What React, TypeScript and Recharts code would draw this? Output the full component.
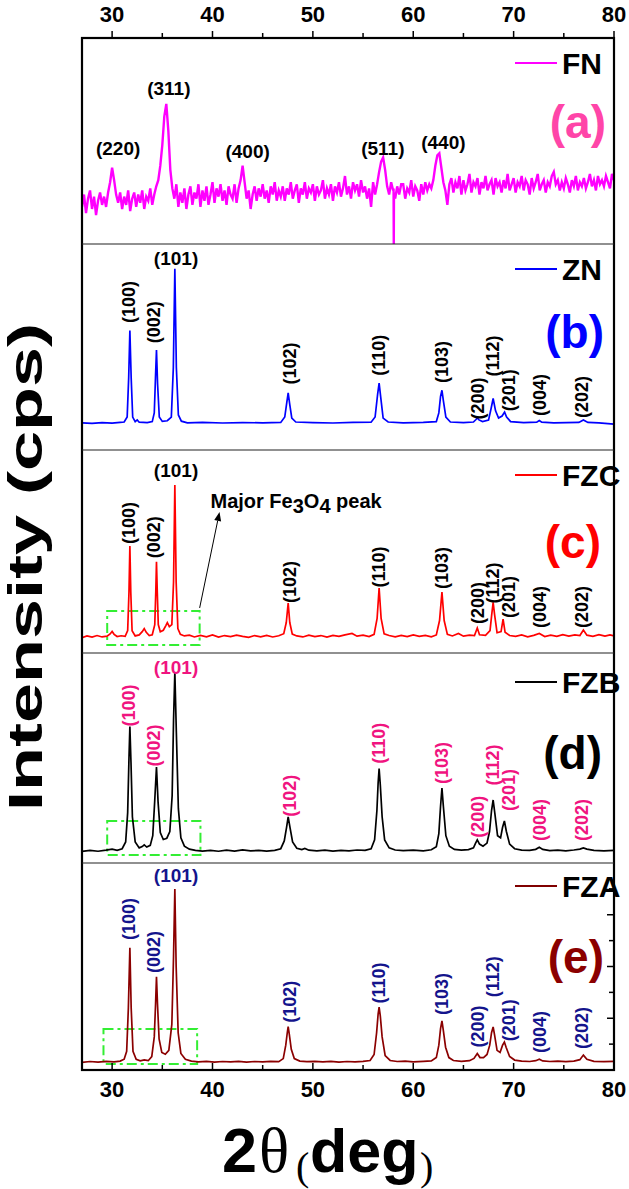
import { LineChart, Line, XAxis, YAxis, ReferenceDot, ReferenceArea, ReferenceLine, Legend } from 'recharts'

const SANS = "'Liberation Sans', Arial, Helvetica, sans-serif"
const SERIF = "'Liberation Serif', 'Times New Roman', serif"

const X_TICKS = [30, 35, 40, 45, 50, 55, 60, 65, 70, 75, 80]
const E_RIGHT_TICKS = [12.5, 25, 37.5, 50, 62.5, 75, 87.5]

// FN: noisy pattern sampled every 0.2 deg from 27 to 80
const FN_START = 27
const FN_STEP = 0.2
const fnY = [
  18, 24, 15, 22, 26, 17, 23, 14, 21, 25,
  19, 23, 18, 25, 30, 37, 31, 24, 20, 25,
  17, 23, 19, 26, 16, 22, 25, 18, 24, 20,
  26, 17, 23, 21, 27, 19, 24, 28, 31, 38,
  48, 62, 68, 55, 36, 27, 22, 29, 18, 25,
  20, 27, 17, 24, 28, 19, 25, 22, 29, 18,
  26, 21, 28, 19, 24, 30, 20, 27, 23, 29,
  21, 26, 19, 28, 24, 22, 29, 20, 27, 31,
  38, 30, 22, 26, 17, 24, 28, 21, 27, 23,
  29, 22, 26, 20, 28, 24, 30, 21, 26, 23,
  28, 21, 27, 24, 30, 22, 26, 29, 20, 27,
  24, 30, 22, 27, 25, 29, 21, 28, 24, 26,
  31, 22, 27, 24, 29, 21, 28, 25, 30, 23,
  27, 33, 24, 28, 22, 30, 26, 29, 23, 31,
  25, 28, 22, 27, 18, 30, 24, 29, 35, 40,
  42, 36, 28, 24, 30, 26, 22, 28, 24, 29,
  29, 22, 27, 25, 31, 23, 28, 26, 21, 29,
  24, 30, 26, 29, 27, 31, 38, 43, 44, 37,
  30, 26, 19, 29, 32, 25, 30, 27, 33, 24,
  31, 26, 29, 34, 25, 30, 28, 32, 24, 30,
  27, 33, 26, 29, 31, 24, 32, 28, 30, 25,
  31, 27, 34, 26, 29, 32, 25, 30, 28, 33,
  26, 31, 29, 24, 32, 27, 30, 34, 26, 29,
  31, 25, 30, 28, 33, 35, 29, 31, 26, 30,
  27, 32, 29, 25, 31, 28, 33, 26, 30, 28,
  32, 27, 30, 34, 28, 31, 26, 33, 29, 31,
  28, 33, 30, 27, 34, 31,
]
const fnSpike = [[58.04, 27], [58.06, 0], [58.08, 25]]

const znPts = [
  [27, 13.2], [28, 12.9], [29, 13.3], [30, 13.0], [30.8, 13.4], [31.2, 13.6], [31.5, 16], [31.65, 35], [31.77, 58], [31.9, 35],
  [32.05, 16], [32.3, 13.8], [32.5, 14.6], [32.7, 13.5], [33.5, 13.3], [34.0, 13.8], [34.2, 18], [34.32, 35], [34.42, 48.5], [34.53, 32],
  [34.7, 16], [35.0, 13.9], [35.5, 14.2], [35.9, 16], [36.1, 40], [36.25, 88], [36.4, 40], [36.6, 17], [36.9, 14], [37.5, 13.2],
  [39, 13.4], [41, 13.1], [43, 13.3], [45, 13.2], [46.8, 13.4], [47.2, 16], [47.4, 23], [47.54, 27.7], [47.7, 22], [47.9, 15.5],
  [48.3, 13.6], [50, 13.3], [52, 13.1], [54, 13.4], [55.8, 13.5], [56.2, 16], [56.45, 27], [56.6, 32.5], [56.75, 26], [57.0, 15.5],
  [57.5, 13.6], [59, 13.2], [61, 13.4], [62.3, 13.8], [62.55, 18], [62.72, 26], [62.86, 29], [63.0, 24], [63.25, 16], [63.7, 13.6],
  [65, 13.3], [66.0, 13.6], [66.25, 14.8], [66.38, 15.6], [66.55, 14.6], [66.9, 13.8], [67.5, 14.5], [67.75, 20], [67.96, 25], [68.2, 19],
  [68.5, 15.5], [68.85, 16.5], [69.1, 18.4], [69.3, 16], [69.7, 13.8], [71, 13.3], [72.3, 13.5], [72.56, 14.3], [72.8, 13.5], [74, 13.2],
  [76.5, 13.4], [76.95, 14.6], [77.4, 13.4], [78.5, 13.2], [80, 12.6],
]

const fzcPts = [
  [27, 7.6], [27.5, 8.4], [28, 7.8], [28.5, 8.6], [29, 7.9], [29.5, 8.3], [29.8, 9.4], [30.0, 10.6], [30.2, 9.2], [30.5, 8.1],
  [30.9, 8.5], [31.3, 8.2], [31.55, 11], [31.68, 30], [31.77, 52.7], [31.86, 30], [31.99, 11], [32.3, 8.4], [32.7, 8.9], [33.0, 10.5],
  [33.2, 12.0], [33.4, 10.2], [33.7, 8.6], [34.0, 9.0], [34.25, 14], [34.35, 30], [34.42, 45], [34.5, 30], [34.6, 14], [34.8, 10.5],
  [35.1, 11.2], [35.35, 13.5], [35.5, 15], [35.7, 13], [35.95, 14], [36.12, 35], [36.25, 82.8], [36.38, 35], [36.55, 12], [36.8, 9.2],
  [37.2, 8.4], [37.7, 8.8], [38.2, 7.9], [38.8, 8.7], [39.4, 8.0], [40, 8.9], [40.6, 7.8], [41.2, 8.6], [41.8, 8.1], [42.4, 8.8],
  [43.0, 8.2], [43.6, 7.7], [44.2, 8.6], [44.8, 8.0], [45.4, 8.7], [46, 7.9], [46.6, 8.5], [47.1, 9.5], [47.35, 15], [47.54, 24.6],
  [47.7, 15], [47.95, 9.3], [48.4, 8.4], [49, 7.9], [49.6, 8.8], [50.2, 8.1], [50.8, 8.6], [51.4, 7.8], [52, 8.7], [52.6, 8.2],
  [53.2, 8.9], [53.9, 9.6], [54.4, 8.3], [55, 8.8], [55.6, 8.1], [56.1, 9.2], [56.4, 17], [56.6, 32], [56.8, 17], [57.1, 9.4],
  [57.6, 8.6], [58.2, 8.0], [58.8, 8.7], [59.4, 8.1], [60, 8.9], [60.6, 8.2], [61.2, 8.7], [61.8, 8.0], [62.3, 8.9], [62.62, 16],
  [62.86, 30], [63.08, 16], [63.4, 9.2], [63.9, 8.4], [64.5, 9.6], [65, 8.3], [65.6, 8.8], [66.1, 8.6], [66.38, 12.3], [66.6, 9.0],
  [67.2, 8.7], [67.65, 11], [67.82, 19], [67.96, 25], [68.1, 19], [68.35, 10], [68.75, 10.5], [68.95, 16.7], [69.15, 10.2], [69.6, 8.6],
  [70.2, 8.2], [70.8, 8.9], [71.4, 8.0], [72, 8.7], [72.56, 9.6], [73.1, 8.1], [73.7, 8.8], [74.3, 8.2], [74.9, 9.0], [75.5, 8.3],
  [76.1, 8.9], [76.6, 8.6], [76.95, 11.3], [77.3, 8.8], [77.9, 8.2], [78.5, 9.0], [79.1, 8.3], [79.6, 8.9], [80, 8.4],
]

const fzbPts = [
  [27, 5.5], [27.8, 6.0], [28.6, 5.6], [29.4, 6.1], [30.0, 6.6], [30.5, 6.0], [31.0, 6.8], [31.35, 10], [31.55, 24], [31.68, 50],
  [31.77, 65], [31.88, 48], [32.02, 22], [32.3, 10], [32.7, 7.2], [33.0, 7.8], [33.2, 8.6], [33.45, 7.6], [33.8, 8.4], [34.05, 13],
  [34.25, 30], [34.42, 45.7], [34.58, 29], [34.8, 14.5], [35.1, 11.2], [35.45, 11.8], [35.75, 15], [35.98, 32], [36.12, 68], [36.25, 91],
  [36.4, 62], [36.6, 26], [36.85, 12], [37.2, 8], [37.7, 6.6], [38.3, 6.0], [39, 5.7], [39.8, 6.0], [40.6, 5.6], [41.4, 6.1],
  [42.2, 5.7], [43, 6.2], [43.8, 5.8], [44.6, 6.0], [45.4, 5.7], [46.2, 6.0], [46.8, 6.8], [47.15, 10.5], [47.38, 17], [47.54, 22],
  [47.72, 17], [47.98, 10], [48.4, 7.0], [48.9, 6.4], [49.2, 6.9], [49.6, 6.1], [50.4, 5.8], [51.2, 6.1], [52, 5.7], [52.8, 6.0],
  [53.6, 5.8], [54.4, 6.2], [55.2, 6.0], [55.8, 6.8], [56.15, 11], [56.38, 25], [56.5, 38], [56.6, 45], [56.72, 37], [56.9, 22],
  [57.15, 11], [57.6, 7.2], [58.2, 6.2], [59, 5.9], [60, 6.1], [61, 5.8], [61.8, 6.3], [62.3, 7.8], [62.55, 14], [62.72, 27],
  [62.86, 35.7], [63.0, 27], [63.25, 13], [63.6, 8], [64.1, 6.5], [64.8, 6.1], [65.5, 6.4], [66.0, 7.2], [66.2, 9.3], [66.38, 11],
  [66.6, 9], [66.95, 8], [67.35, 9.5], [67.6, 15], [67.8, 25], [67.96, 30], [68.12, 24], [68.4, 13], [68.7, 12], [68.9, 17],
  [69.08, 20], [69.28, 15], [69.6, 9], [70.1, 6.8], [70.8, 6.1], [71.6, 6.0], [72.2, 6.5], [72.56, 7.5], [72.9, 6.5], [73.6, 5.9],
  [74.4, 6.1], [75.2, 5.8], [76, 6.2], [76.6, 6.6], [76.95, 7.2], [77.3, 6.6], [78, 6.0], [79, 5.8], [80, 6.0],
]

const fzaPts = [
  [27, 3.7], [27.8, 4.1], [28.6, 3.8], [29.4, 4.2], [30.2, 3.9], [30.8, 4.3], [31.2, 5.2], [31.45, 9], [31.62, 30], [31.77, 59],
  [31.9, 30], [32.08, 9], [32.4, 5.2], [32.8, 4.4], [33.2, 4.9], [33.6, 4.5], [33.95, 6.5], [34.2, 16], [34.33, 32], [34.42, 45],
  [34.52, 32], [34.68, 15], [34.95, 8.5], [35.3, 7.6], [35.65, 9.5], [35.95, 22], [36.12, 55], [36.25, 87.4], [36.38, 50], [36.58, 18],
  [36.85, 8], [37.3, 5.2], [37.9, 4.3], [38.6, 3.9], [39.4, 4.2], [40.2, 3.8], [41, 4.1], [41.8, 3.9], [42.6, 4.2], [43.4, 3.8],
  [44.2, 4.1], [45, 3.9], [45.8, 4.2], [46.6, 4.0], [47.05, 5.5], [47.3, 12], [47.45, 18], [47.54, 21], [47.66, 17], [47.85, 10],
  [48.15, 5.5], [48.7, 4.3], [49.4, 4.0], [50.2, 4.2], [51, 3.9], [51.8, 4.2], [52.6, 3.8], [53.4, 4.1], [54.2, 3.9], [55, 4.2],
  [55.7, 4.6], [56.1, 7.5], [56.35, 18], [56.5, 27], [56.6, 30.4], [56.72, 26], [56.9, 16], [57.2, 7], [57.7, 4.6], [58.4, 4.1],
  [59.2, 4.3], [60, 3.9], [61, 4.2], [61.8, 4.4], [62.3, 6], [62.55, 12], [62.72, 20], [62.86, 23.7], [63.0, 19], [63.22, 11],
  [63.55, 6], [64, 4.6], [64.8, 4.2], [65.6, 4.5], [66.05, 5.6], [66.38, 8], [66.65, 6], [67.0, 6.0], [67.35, 7.5], [67.62, 12],
  [67.8, 18], [67.96, 20.8], [68.1, 17], [68.35, 9.5], [68.65, 8.5], [68.9, 12], [69.08, 13.5], [69.25, 11], [69.6, 6.5], [70.1, 4.8],
  [70.8, 4.3], [71.6, 4.1], [72.2, 4.5], [72.56, 5.2], [72.9, 4.4], [73.6, 4.1], [74.4, 4.3], [75.2, 4.0], [76, 4.3], [76.6, 5.0],
  [76.95, 7.2], [77.3, 5.2], [78, 4.2], [79, 4.0], [80, 4.2],
]

// peak labels
const FN_HKL = ['(220)', '(311)', '(400)', '(511)', '(440)']
const FN_LABEL_X = [30.6, 35.65, 43.5, 56.97, 63.0]
const FN_LABEL_Y = [46.6, 75.7, 44.7, 46.6, 49.5]

const ZNO_HKL = ['(100)', '(002)', '(101)', '(102)', '(110)', '(103)', '(200)', '(112)', '(201)', '(004)', '(202)']
const ZNO_LABEL_X = [31.68, 34.2, 36.37, 47.7, 56.6, 62.83, 66.44, 67.99, 69.55, 72.66, 76.85]
const ZN_LABEL_Y = [71.8, 62, 93, 42, 46, 42.7, 25, 45.6, 29, 26.7, 25.7]
const FZC_LABEL_Y = [64, 57, 90, 35, 42.4, 41.9, 24.6, 34.5, 27.6, 22.7, 22.7]
const FZB_LABEL_Y = [75, 56, 93, 32, 57, 47.6, 22, 46.7, 34.8, 20.5, 20.5]
const FZA_LABEL_Y = [73, 57, 94, 33, 42, 36.7, 21, 45, 24, 18.4, 20.3]

const PLOT_LEFT = 82
const PLOT_RIGHT = 614
const W = 629

const toRows = (pts: number[][]) => pts.map(([x, y]) => ({ x, y }))
const fnRows = fnY
  .map((y, i) => ({ x: +(FN_START + i * FN_STEP).toFixed(2), y }))
  .concat(toRows(fnSpike))
  .sort((a, b) => a.x - b.x)

function peakDots(hkl: string[], xs: number[], ys: number[], color: string, flatIdx: number[]) {
  return hkl.map((t, i) => (
    <ReferenceDot
      key={t + i}
      x={xs[i]}
      y={ys[i]}
      r={1}
      shape={(p: any) =>
        flatIdx.includes(i) ? (
          <text x={p.cx} y={p.cy} textAnchor="middle" dominantBaseline="central" fontFamily={SANS}
            fontWeight="bold" fontSize={19} fill={color}>{t}</text>
        ) : (
          <text transform={`translate(${p.cx},${p.cy}) rotate(-90)`} textAnchor="middle" dominantBaseline="central"
            fontFamily={SANS} fontWeight="bold" fontSize={18} fill={color}>{t}</text>
        )
      }
    />
  ))
}

const legendFor = (color: string, name: string, top: number) => (
  <Legend
    layout="horizontal"
    verticalAlign="middle"
    align="center"
    wrapperStyle={{ left: 505, top, width: 120, height: 34 }}
    content={() => (
      <svg width={120} height={34}>
        <line x1={10} x2={52} y1={16} y2={16} stroke={color} strokeWidth={2} />
        <text x={57} y={27} fontFamily={SANS} fontWeight="bold" fontSize={30} fill="#000">{name}</text>
      </svg>
    )}
  />
)

const TopTick = (p: any) => {
  const v = p.payload.value
  const major = v % 10 === 0
  return (
    <g>
      <line x1={p.x} x2={p.x} y1={38} y2={major ? 31 : 33} stroke="#000" strokeWidth={1.5} />
      {major && (
        <text x={p.x} y={22} textAnchor="middle" fontFamily={SANS} fontWeight="bold" fontSize={22} fill="#000">{v}</text>
      )}
    </g>
  )
}

const BottomTick = (p: any) => {
  const v = p.payload.value
  const major = v % 10 === 0
  return (
    <g>
      <line x1={p.x} x2={p.x} y1={207} y2={major ? 200 : 202} stroke="#000" strokeWidth={1.5} />
      {major && (
        <text x={p.x} y={234} textAnchor="middle" fontFamily={SANS} fontWeight="bold" fontSize={22} fill="#000">{v}</text>
      )}
    </g>
  )
}

const RightTick = (p: any) => {
  const v = p.payload.value
  const major = v % 25 === 0
  return <line x1={PLOT_RIGHT} x2={PLOT_RIGHT - (major ? 7 : 5)} y1={p.y} y2={p.y} stroke="#000" strokeWidth={1.5} />
}

const greenBox = (x1: number, x2: number, y1: number, y2: number) => (
  <ReferenceArea x1={x1} x2={x2} y1={y1} y2={y2} fill="none" fillOpacity={0} stroke="#33ee33"
    strokeWidth={2} strokeDasharray="10 4 3 4" />
)

const Arrow = (p: any) => {
  const { x1, y1, x2, y2 } = p
  if (x1 == null) return <g />
  const a = Math.atan2(y2 - y1, x2 - x1)
  const L = 9
  const w = 3.5
  const bx = x2 - L * Math.cos(a)
  const by = y2 - L * Math.sin(a)
  const pts = `${x2},${y2} ${bx + w * Math.sin(a)},${by - w * Math.cos(a)} ${bx - w * Math.sin(a)},${by + w * Math.cos(a)}`
  return (
    <g>
      <line x1={x1} y1={y1} x2={bx} y2={by} stroke="#000" strokeWidth={1} />
      <polygon points={pts} fill="#000" />
    </g>
  )
}

const xAxisHidden = <XAxis dataKey="x" type="number" domain={[27, 80]} allowDataOverflow hide />
const yAxisHidden = <YAxis type="number" domain={[0, 100]} allowDataOverflow hide />

export default function App() {
  const margin = { top: 0, right: W - PLOT_RIGHT, bottom: 0, left: PLOT_LEFT }
  return (
    <div style={{ position: 'absolute', left: 0, top: 0, width: W, height: 1189, background: '#fff', fontFamily: SANS }}>
      {/* (a) FN */}
      <div style={{ position: 'absolute', left: 0, top: 0 }}>
        <LineChart width={W} height={244} data={fnRows} margin={{ ...margin, top: 38 }}>
          <XAxis dataKey="x" type="number" domain={[27, 80]} allowDataOverflow orientation="top" mirror
            ticks={X_TICKS} tick={<TopTick />} tickLine={false} axisLine={false} interval={0} />
          {yAxisHidden}
          {legendFor('#ff00ff', 'FN', 47)}
          <Line dataKey="y" type="linear" stroke="#ff00ff" strokeWidth={2.4} strokeLinejoin="miter" dot={false} isAnimationActive={false} />
          {peakDots(FN_HKL, FN_LABEL_X, FN_LABEL_Y, '#000', [0, 1, 2, 3, 4])}
        </LineChart>
      </div>

      {/* (b) ZN */}
      <div style={{ position: 'absolute', left: 0, top: 244 }}>
        <LineChart width={W} height={206} data={toRows(znPts)} margin={margin}>
          {xAxisHidden}
          {yAxisHidden}
          {legendFor('#0000ff', 'ZN', 9)}
          <Line dataKey="y" type="linear" stroke="#0000ff" strokeWidth={1.7} dot={false} isAnimationActive={false} />
          {peakDots(ZNO_HKL, ZNO_LABEL_X, ZN_LABEL_Y, '#000', [2])}
        </LineChart>
      </div>

      {/* (c) FZC */}
      <div style={{ position: 'absolute', left: 0, top: 450 }}>
        <LineChart width={W} height={203} data={toRows(fzcPts)} margin={margin}>
          {xAxisHidden}
          {yAxisHidden}
          {legendFor('#ff0000', 'FZC', 9)}
          {greenBox(29.51, 38.72, 3.9, 20.7)}
          <ReferenceLine segment={[{ x: 38.72, y: 22.2 }, { x: 40.7, y: 69.5 }]} shape={<Arrow />} />
          <Line dataKey="y" type="linear" stroke="#ff0000" strokeWidth={1.7} dot={false} isAnimationActive={false} />
          {peakDots(ZNO_HKL, ZNO_LABEL_X, FZC_LABEL_Y, '#000', [2])}
          <ReferenceDot x={39.8} y={74.9} r={1} shape={(p: any) => (
            <text x={p.cx} y={p.cy} dominantBaseline="central" fontFamily={SANS} fontWeight="bold" fontSize={20} fill="#000">
              Major Fe<tspan dy={5}>3</tspan><tspan dy={-5}>O</tspan><tspan dy={5}>4</tspan><tspan dy={-5}> peak</tspan>
            </text>
          )} />
        </LineChart>
      </div>

      {/* (d) FZB */}
      <div style={{ position: 'absolute', left: 0, top: 653 }}>
        <LineChart width={W} height={210} data={toRows(fzbPts)} margin={margin}>
          {xAxisHidden}
          {yAxisHidden}
          {legendFor('#000000', 'FZB', 13)}
          {greenBox(29.51, 38.8, 3.8, 20)}
          <Line dataKey="y" type="linear" stroke="#000000" strokeWidth={1.7} dot={false} isAnimationActive={false} />
          {peakDots(ZNO_HKL, ZNO_LABEL_X, FZB_LABEL_Y, '#f0147f', [2])}
        </LineChart>
      </div>

      {/* (e) FZA */}
      <div style={{ position: 'absolute', left: 0, top: 863 }}>
        <LineChart width={W} height={247} data={toRows(fzaPts)} margin={{ ...margin, bottom: 40 }}>
          <XAxis dataKey="x" type="number" domain={[27, 80]} allowDataOverflow orientation="bottom" mirror
            ticks={X_TICKS} tick={<BottomTick />} tickLine={false} axisLine={false} interval={0} />
          <YAxis type="number" domain={[0, 100]} allowDataOverflow orientation="right" mirror
            ticks={E_RIGHT_TICKS} tick={<RightTick />} tickLine={false} axisLine={false} interval={0} />
          {legendFor('#800000', 'FZA', 7)}
          {greenBox(29.14, 38.47, 2.9, 19.8)}
          <Line dataKey="y" type="linear" stroke="#8b0000" strokeWidth={1.7} dot={false} isAnimationActive={false} />
          {peakDots(ZNO_HKL, ZNO_LABEL_X, FZA_LABEL_Y, '#14148c', [2])}
        </LineChart>
      </div>

      {/* frame, panel letters and axis titles */}
      <svg width={W} height={1189} style={{ position: 'absolute', left: 0, top: 0, pointerEvents: 'none' }}>
        <rect x={PLOT_LEFT} y={38} width={PLOT_RIGHT - PLOT_LEFT} height={1032} fill="none" stroke="#000" strokeWidth={2.2} />
        {[244, 450, 653, 863].map((y) => (
          <line key={y} x1={PLOT_LEFT} x2={PLOT_RIGHT} y1={y} y2={y} stroke="#222" strokeWidth={1.2} />
        ))}
        <g fontFamily={SANS} fontWeight="bold" fontSize={46} textAnchor="end">
          <text x={606} y={138} fill="#ff45a8">(a)</text>
          <text x={604} y={348} fill="#0000ff">(b)</text>
          <text x={601} y={558} fill="#ff0000">(c)</text>
          <text x={602} y={769} fill="#000">(d)</text>
          <text x={604} y={973} fill="#8b0000">(e)</text>
        </g>
        <text transform="translate(26,567) rotate(-90) scale(1,0.66)" textAnchor="middle" dominantBaseline="central"
          fontFamily={SANS} fontWeight="bold" fontSize={72} fill="#000">Intensity (cps)</text>
        <text x={222} y={1172} fontFamily={SANS} fontWeight="bold" fontSize={63} fill="#000">2</text>
        <text x={259} y={1172} fontFamily={SERIF} fontSize={63} fill="#000">θ</text>
        <text x={296} y={1180} fontFamily={SERIF} fontSize={40} fill="#000">(</text>
        <text x={310} y={1172} fontFamily={SANS} fontWeight="bold" fontSize={61} fill="#000">deg</text>
        <text x={420} y={1180} fontFamily={SERIF} fontSize={40} fill="#000">)</text>
      </svg>
    </div>
  )
}
